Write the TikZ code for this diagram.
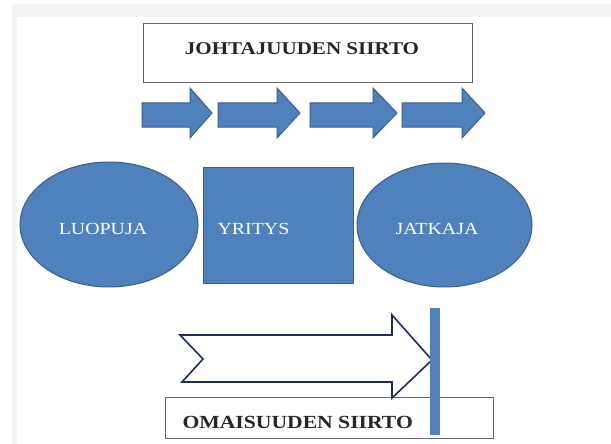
\documentclass[tikz,border=0pt]{standalone}
\usepackage{fontspec}
\setmainfont{Liberation Serif}[FakeStretch=1.17]
\usetikzlibrary{shapes.geometric}
\definecolor{ofblue}{HTML}{4F81BD}
\definecolor{ofline}{HTML}{3B5E8C}
\definecolor{navy}{HTML}{1F2A5E}
\definecolor{band}{HTML}{F3F3F3}
\tikzset{
  blk/.style={fill=ofblue, draw=ofline, line width=1pt},
  lbl/.style={text=white, font=\fontsize{17}{20}\selectfont},
  titlebox/.style={draw=black!60, line width=0.8pt, fill=white},
  ttl/.style={font=\bfseries\fontsize{18}{22}\selectfont, text=black!85},
}
\begin{document}
\begin{tikzpicture}[x=1pt,y=-1pt]
\useasboundingbox (0,0) rectangle (611,444);
\fill[white] (0,0) rectangle (611,444);
% faint frame bands
\fill[band] (12,4) rectangle (611,17);
\fill[band] (12,4) rectangle (17,444);

% top title box
\node[titlebox, minimum width=329pt, minimum height=59pt, anchor=north west] (top) at (143,23) {};
\node[ttl] (toptxt) at (302,49) {JOHTAJUUDEN SIIRTO};

% four block arrows
\foreach \a/\h/\b [count=\i] in {142/190/212, 218/277/300, 310/373/397, 402/462/485}{
  \draw[blk] (\a,103) -- (\h,103) -- (\h,88) -- (\b,113) -- (\h,138) -- (\h,127) -- (\a,127) -- cycle;
}

% ellipses and rectangle
\node[blk, ellipse, minimum width=178pt, minimum height=125pt] (luo) at (109,224.5) {};
\node[lbl] at (103,229) {LUOPUJA};
\node[blk, rectangle, minimum width=150pt, minimum height=116pt, anchor=north west] (yri) at (203,167) {};
\node[lbl, anchor=west] at (214,229) {YRITYS};
\node[blk, ellipse, minimum width=175pt, minimum height=124pt] (jat) at (444.5,225) {};
\node[lbl] at (437,229) {JATKAJA};

% bottom box
\node[titlebox, minimum width=328pt, minimum height=41pt, anchor=north west] (bot) at (165,397) {};
\node[ttl, font=\bfseries\fontsize{18.5}{22}\selectfont, anchor=west] (bottxt) at (179,422) {OMAISUUDEN SIIRTO};

% outline arrow
\draw[navy, line width=1.6pt, fill=white, line join=miter]
  (180,335) -- (392,335) -- (392,315) -- (432,360) -- (392,398) -- (392,382) -- (182,382) -- (203,359) -- cycle;

% vertical bar
\fill[ofblue] (430,308) rectangle (440,435);
\end{tikzpicture}
\end{document}
